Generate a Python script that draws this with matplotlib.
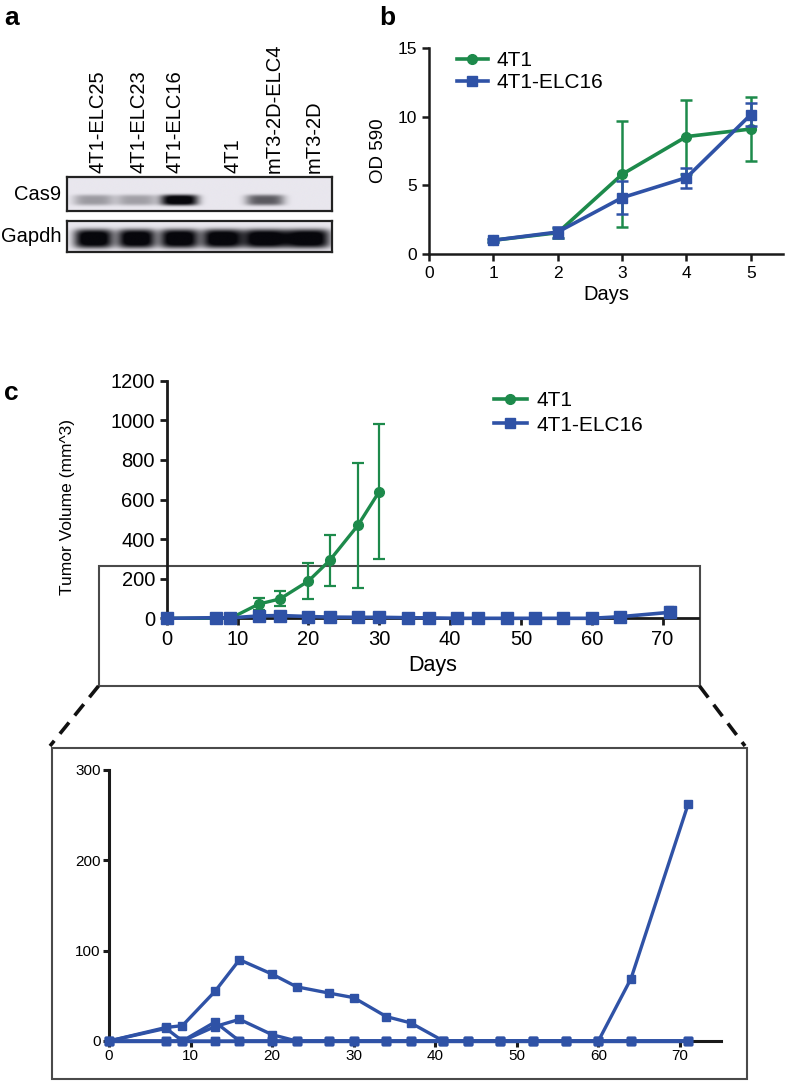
import numpy as np
import matplotlib
matplotlib.use("Agg")
import matplotlib.pyplot as plt
from matplotlib.lines import Line2D
from matplotlib.patches import Rectangle
from matplotlib.colors import LinearSegmentedColormap

plt.rcParams['font.family'] = ['Liberation Sans', 'DejaVu Sans']

GREEN = '#1d8a4b'
BLUE = '#2f52a6'

# ---------------- data ----------------
# panel a (western blot)
lanes = ['4T1-ELC25', '4T1-ELC23', '4T1-ELC16', '4T1', 'mT3-2D-ELC4', 'mT3-2D']
cas9_intensity = [0.30, 0.28, 1.00, 0.0, 0.55, 0.0]
gapdh_intensity = [1.0, 1.0, 1.0, 1.0, 1.0, 1.0]

# panel b (OD 590)
b_days = [1, 2, 3, 4, 5]
b_4t1 = [1.0, 1.55, 5.8, 8.55, 9.1]
b_4t1_err = [0.1, 0.35, 3.85, 2.7, 2.3]
b_elc16 = [1.0, 1.6, 4.1, 5.56, 10.15]
b_elc16_err = [0.1, 0.4, 1.2, 0.72, 0.85]

# panel c upper (tumor volume mean +/- error)
c_4t1_days = [0, 7, 9, 13, 16, 20, 23, 27, 30]
c_4t1 = [0, 0, 0, 72, 98, 188, 292, 470, 640]
c_4t1_err = [0, 0, 0, 30, 38, 92, 130, 315, 340]
c_elc_days = [0, 7, 9, 13, 16, 20, 23, 27, 30, 34, 37, 41, 44, 48, 52, 56, 60, 64, 71]
c_elc = [0, 3, 2, 12, 14, 9, 6, 5, 5, 3, 2, 0, 0, 0, 0, 0, 0, 8, 30]
c_elc_err = [0, 2, 2, 8, 10, 8, 6, 5, 5, 3, 2, 0, 0, 0, 0, 0, 0, 8, 28]

# panel c lower (individual 4T1-ELC16 mice)
mouse_days = [0, 7, 9, 13, 16, 20, 23, 27, 30, 34, 37, 41, 44, 48, 52, 56, 60, 64, 71]
mouse_a = [0, 15, 17, 55, 90, 74, 60, 53, 48, 27, 20, 0, 0, 0, 0, 0, 0, 0, 0]
mouse_b = [0, 14, 0, 21, 0, 0, 0, 0, 0, 0, 0, 0, 0, 0, 0, 0, 0, 0, 0]
mouse_c = [0, 0, 0, 16, 24, 7, 0, 0, 0, 0, 0, 0, 0, 0, 0, 0, 0, 0, 0]
mouse_d = [0, 0, 0, 0, 0, 0, 0, 0, 0, 0, 0, 0, 0, 0, 0, 0, 0, 69, 262]
mouse_e = [0, 0, 0, 0, 0, 0, 0, 0, 0, 0, 0, 0, 0, 0, 0, 0, 0, 0, 0]

W, H = 800, 1081
fig = plt.figure(figsize=(W / 100, H / 100), dpi=100)


def rect(x0, y0, x1, y1):
    """pixel box (top-left origin) -> figure fraction [l, b, w, h]"""
    return [x0 / W, 1 - y1 / H, (x1 - x0) / W, (y1 - y0) / H]


def style_prism(ax, lw=1.8):
    for s in ['top', 'right']:
        ax.spines[s].set_visible(False)
    for s in ['left', 'bottom']:
        ax.spines[s].set_linewidth(lw)
        ax.spines[s].set_color('#1a1a1a')
    ax.tick_params(width=lw, length=5, color='#1a1a1a', direction='out')
    ax.set_facecolor('none')


def handles(ms):
    return [Line2D([], [], color=GREEN, marker='o', ms=ms, lw=2.6),
            Line2D([], [], color=BLUE, marker='s', ms=ms, lw=2.6)]


# ---------------- panel labels ----------------
fig.text(4 / W, 1 - 18 / H, 'a', fontsize=19, fontweight='bold', va='center')
fig.text(379 / W, 1 - 18 / H, 'b', fontsize=19, fontweight='bold', va='center')
fig.text(4 / W, 1 - 393 / H, 'c', fontsize=19, fontweight='bold', va='center')

# ---------------- panel a: blot ----------------
cmap = LinearSegmentedColormap.from_list('blot', ['#e9e7ee', '#07070c'])
lane_pos = np.arange(len(lanes))
xlim_a = (-0.62, 5.56)


def blot(ax, intens, widths, yc, sy):
    nx, ny = 600, 80
    xs = np.linspace(*xlim_a, nx)
    ys = np.linspace(0, 1, ny)
    img = np.zeros((ny, nx))
    for p, v, w in zip(lane_pos, intens, widths):
        prof_x = np.exp(-((xs - p) / w) ** 4)
        prof_y = np.exp(-((ys - yc) / sy) ** 4)
        img += v * np.outer(prof_y, prof_x)
    img = np.clip(img * 1.15, 0, 1)
    ax.imshow(img, cmap=cmap, vmin=0, vmax=1, aspect='auto',
              extent=(xlim_a[0], xlim_a[1], 0, 1), origin='lower', interpolation='bilinear')
    ax.set_xlim(*xlim_a)
    ax.set_ylim(0, 1)
    ax.set_xticks([])
    ax.set_yticks([])
    for s in ax.spines.values():
        s.set_linewidth(1.6)
        s.set_color('#222222')


ax_cas = fig.add_axes(rect(67, 177, 332, 211))
blot(ax_cas, cas9_intensity, [0.47, 0.47, 0.44, 0.4, 0.45, 0.4], 0.32, 0.16)
ax_gap = fig.add_axes(rect(67, 221, 332, 252))
blot(ax_gap, gapdh_intensity, [0.46, 0.45, 0.46, 0.47, 0.53, 0.52], 0.43, 0.31)
fig.text(61 / W, 1 - 194 / H, 'Cas9', ha='right', va='center', fontsize=14.5)
fig.text(61 / W, 1 - 237 / H, 'Gapdh', ha='right', va='center', fontsize=14.5)
lab_off = [0.1, 0.05, -0.1, 0.25, 0.22, 0.15]
for p, name, o in zip(lane_pos, lanes, lab_off):
    ax_cas.text(p + o, 1.12, name, rotation=90, ha='center', va='bottom', fontsize=14.5,
                transform=ax_cas.get_xaxis_transform())

# ---------------- panel b ----------------
axb = fig.add_axes(rect(429, 48, 783, 254))
style_prism(axb)
axb.errorbar(b_days, b_4t1, yerr=b_4t1_err, color=GREEN, marker='o', ms=7, lw=2.6,
             elinewidth=1.8, capsize=4, capthick=1.8, clip_on=False, zorder=3)
axb.errorbar(b_days, b_elc16, yerr=b_elc16_err, color=BLUE, marker='s', ms=7, lw=2.6,
             elinewidth=1.8, capsize=4, capthick=1.8, clip_on=False, zorder=4)
axb.set_xlim(0, 5.5)
axb.set_ylim(0, 15)
axb.set_xticks([0, 1, 2, 3, 4, 5])
axb.set_yticks([0, 5, 10, 15])
axb.tick_params(labelsize=12.5)
axb.set_xlabel('Days', fontsize=14.5, labelpad=3)
axb.set_ylabel('OD 590', fontsize=13.5, labelpad=8)
axb.legend(handles(7), ['4T1', '4T1-ELC16'], loc='upper left', bbox_to_anchor=(0.055, 1.025),
           frameon=False, fontsize=15, handlelength=1.5, handletextpad=0.4, labelspacing=0.15,
           borderaxespad=0)

# ---------------- panel c upper ----------------
axc = fig.add_axes(rect(166.7, 380.7, 698, 618.3))
style_prism(axc, lw=2.0)
axc.errorbar(c_4t1_days, c_4t1, yerr=c_4t1_err, color=GREEN, marker='o', ms=7, lw=2.4,
             elinewidth=1.6, capsize=4, capthick=1.6, clip_on=False, zorder=3)
axc.errorbar(c_elc_days, c_elc, yerr=c_elc_err, color=BLUE, marker='s', ms=8, lw=2.6,
             elinewidth=1.6, capsize=3, capthick=1.6, clip_on=False, zorder=4)
axc.set_xlim(0, 75)
axc.set_ylim(0, 1200)
axc.set_xticks(range(0, 71, 10))
axc.set_yticks(range(0, 1201, 200))
axc.tick_params(labelsize=14.5)
axc.set_xlabel('Days', fontsize=15.5, labelpad=4)
axc.set_ylabel('Tumor Volume (mm^3)', fontsize=12.5)
axc.yaxis.set_label_coords(-0.172, 0.47)
axc.legend(handles(7), ['4T1', '4T1-ELC16'], loc='upper left', bbox_to_anchor=(0.6, 0.99),
           frameon=False, fontsize=15, handlelength=1.6, handletextpad=0.45, labelspacing=0.25,
           borderaxespad=0)

# zoom rectangles and connectors (figure decorations)
box_col = '#4a4a4a'
fig.add_artist(Rectangle((98.5 / W, 1 - 686 / H), (699.5 - 98.5) / W, (686 - 565.7) / H,
                         transform=fig.transFigure, fill=False, ec=box_col, lw=1.5, zorder=0))
fig.add_artist(Rectangle((51.7 / W, 1 - 1079 / H), (746.5 - 51.7) / W, (1079 - 748.3) / H,
                         transform=fig.transFigure, fill=False, ec=box_col, lw=1.5, zorder=0))
fig.add_artist(Line2D([98.5 / W, 50 / W], [1 - 686 / H, 1 - 746 / H], transform=fig.transFigure,
                      color='#111111', lw=2.6, dashes=(4, 2.5)))
fig.add_artist(Line2D([699.5 / W, 745 / W], [1 - 686 / H, 1 - 746 / H], transform=fig.transFigure,
                      color='#111111', lw=2.6, dashes=(4, 2.5)))

# ---------------- panel c lower ----------------
axl = fig.add_axes(rect(109, 770, 720.7, 1041))
style_prism(axl, lw=2.2)
for m in [mouse_e, mouse_d, mouse_c, mouse_b, mouse_a]:
    axl.plot(mouse_days, m, color=BLUE, marker='s', ms=6, lw=2.4, clip_on=False, zorder=3)
axl.set_xlim(0, 75)
axl.set_ylim(0, 300)
axl.set_xticks(range(0, 71, 10))
axl.set_yticks([0, 100, 200, 300])
axl.tick_params(labelsize=11, length=4, pad=2)

fig.savefig('out.png', dpi=100)
